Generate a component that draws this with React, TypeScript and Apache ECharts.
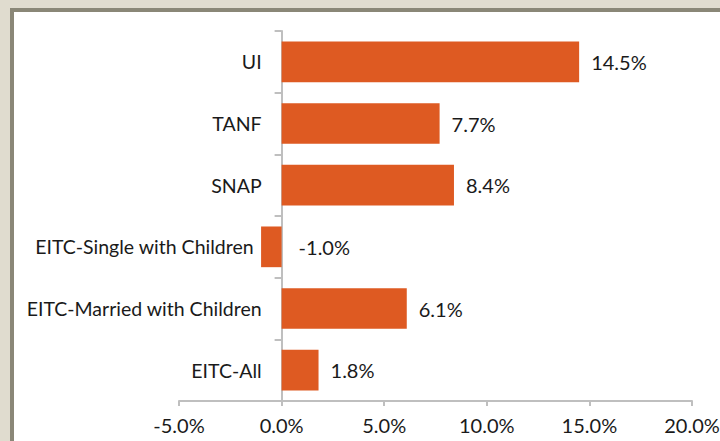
import React, { useEffect, useRef } from "react";
import * as echarts from "echarts";

const categories = [
  "UI",
  "TANF",
  "SNAP",
  "EITC-Single with Children",
  "EITC-Married with Children",
  "EITC-All",
];
const values = [14.5, 7.7, 8.4, -1.0, 6.1, 1.8];
const xTicks = { min: -5, max: 20, interval: 5 };

const FONT = "Lato, sans-serif";
const BAR = "#DE5A22";
const AXIS = "#BFBFBF";
const TEXT = "#1a1a1a";

const W = 720;
const GRID_LEFT = 179;
const GRID_RIGHT = 28;

export default function App() {
  const ref = useRef<HTMLDivElement>(null);
  useEffect(() => {
    document.body.style.margin = "0";
    const chart = echarts.init(ref.current!, null, { renderer: "svg" });
    const gridW = W - GRID_LEFT - GRID_RIGHT;
    const zeroOffset = -((0 - xTicks.min) / (xTicks.max - xTicks.min)) * gridW;
    chart.setOption({
      animation: false,
      backgroundColor: "#E0DCCF",
      graphic: [
        { type: "rect", silent: true, z: -10, shape: { x: 10, y: 8, width: 720, height: 440 }, style: { fill: "#8A8777" } },
        { type: "rect", silent: true, z: -10, shape: { x: 14, y: 12, width: 720, height: 440 }, style: { fill: "#FFFFFF" } },
      ],
      grid: { left: GRID_LEFT, right: GRID_RIGHT, top: 31, bottom: 40, containLabel: false, outerBoundsMode: "none" },
      xAxis: {
        type: "value",
        min: xTicks.min,
        max: xTicks.max,
        interval: xTicks.interval,
        axisLine: { show: true, lineStyle: { color: AXIS, width: 2 } },
        axisTick: { show: true, length: 5, lineStyle: { color: AXIS, width: 2 } },
        splitLine: { show: false },
        axisLabel: {
          margin: 14,
          color: TEXT,
          fontFamily: FONT,
          fontSize: 20,
          formatter: (v: number) => v.toFixed(1) + "%",
        },
      },
      yAxis: {
        type: "category",
        inverse: true,
        data: categories.map((c, i) =>
          values[i] < 0 ? { value: c, textStyle: { padding: [0, 8, 0, 0] } } : c
        ),
        offset: zeroOffset,
        axisLine: { show: true, onZero: false, lineStyle: { color: AXIS, width: 2 } },
        axisTick: { show: true, length: 7, lineStyle: { color: AXIS, width: 2 } },
        axisLabel: { margin: 20, color: TEXT, fontFamily: FONT, fontSize: 19.5 },
      },
      series: [
        {
          type: "bar",
          data: values.map((v) => (v < 0 ? { value: v, label: { distance: 17 } } : v)),
          barWidth: "66%",
          itemStyle: { color: BAR },
          label: {
            show: true,
            position: "right",
            distance: 12,
            color: TEXT,
            fontFamily: FONT,
            fontSize: 20,
            formatter: (p: any) => Number(p.value).toFixed(1) + "%",
          },
        },
      ],
    });
    return () => chart.dispose();
  }, []);
  return <div ref={ref} style={{ width: 720, height: 441 }} />;
}
